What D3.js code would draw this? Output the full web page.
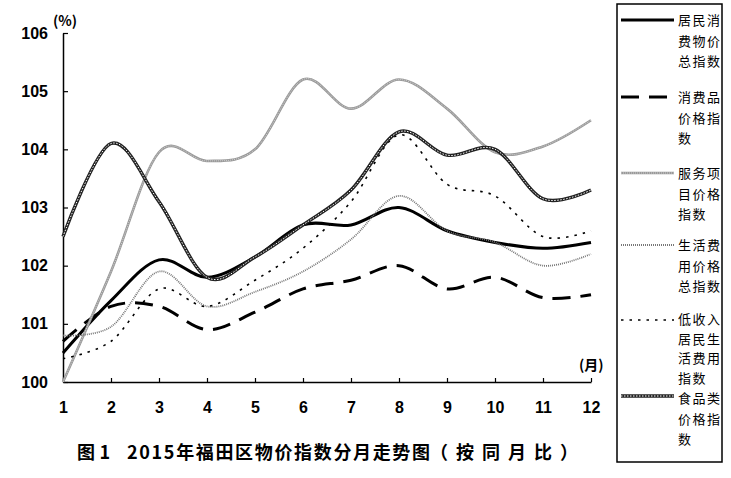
<!DOCTYPE html>
<html><head><meta charset="utf-8">
<script src="https://cdn.jsdelivr.net/npm/d3@7"></script>
<style>body{margin:0;background:#fff}svg{display:block}</style>
</head><body>
<script>
const months = [1,2,3,4,5,6,7,8,9,10,11,12];
const cpi      = [100.5,101.4,102.1,101.8,102.15,102.7,102.7,103.0,102.6,102.4,102.3,102.4];
const goods    = [100.7,101.3,101.3,100.9,101.2,101.6,101.75,102.0,101.6,101.8,101.45,101.5];
const services = [100.0,101.9,103.95,103.8,104.0,105.2,104.7,105.2,104.7,103.95,104.05,104.5];
const living   = [100.8,100.95,101.9,101.3,101.55,101.9,102.45,103.2,102.6,102.4,102.0,102.2];
const lowInc   = [100.4,100.7,101.6,101.3,101.75,102.3,103.1,104.25,103.4,103.2,102.5,102.6];
const food     = [102.5,104.1,103.1,101.8,102.15,102.7,103.3,104.3,103.9,104.0,103.15,103.3];
const yTicks = [100,101,102,103,104,105,106];
const legendNames = [["居民消","费物价","总指数"],["消费品","价格指","数"],["服务项","目价格","指数"],["生活费","用价格","总指数"],["低收入","居民生","活费用","指数"],["食品类","价格指","数"]];
const titleParts = ["图1","2015年福田区物价指数分月走势图","（按同月比）"];

const W=731,H=478;
const svg=d3.select("body").append("svg").attr("width",W).attr("height",H);
const x=d3.scaleLinear().domain([1,12]).range([63,591]);
const y=d3.scaleLinear().domain([100,106]).range([382,33]);

const numFont='"Liberation Sans", Arial, sans-serif';
const cjk='"Noto Sans CJK SC", sans-serif';

// axes
const ya=svg.append("g").attr("transform","translate(63,0)")
  .call(d3.axisLeft(y).tickValues(yTicks).tickSizeInner(-5).tickSizeOuter(0).tickPadding(15).tickFormat(d3.format("d")));
ya.selectAll("text").attr("font-family",numFont).attr("font-weight","bold").attr("font-size",16).attr("fill","#000");
const xa=svg.append("g").attr("transform","translate(0,382)")
  .call(d3.axisBottom(x).tickValues(months).tickSizeInner(-4).tickSizeOuter(0).tickPadding(20).tickFormat(d3.format("d")));
xa.selectAll("text").attr("font-family",numFont).attr("font-weight","bold").attr("font-size",16).attr("fill","#000");
svg.selectAll(".domain").attr("stroke","#000").attr("stroke-width",1.5);
svg.selectAll(".tick line").attr("stroke","#000").attr("stroke-width",1.2);

svg.append("text").attr("x",53).attr("y",26).text("(%)").attr("font-family",cjk).attr("font-weight","bold").attr("font-size",14);
svg.append("text").attr("x",579).attr("y",370).text("(月)").attr("font-family",cjk).attr("font-weight","bold").attr("font-size",14);

const line=d3.line().x((d,i)=>x(months[i])).y(d=>y(d)).curve(d3.curveCatmullRom.alpha(0));

const styles=[
  {data:cpi, layers:[{stroke:"#000",w:3}]},
  {data:goods, layers:[{stroke:"#000",w:3,dash:"18,10"}]},
  {data:services, layers:[{stroke:"#999",w:2.6},{stroke:"#e0e0e0",w:0.8,dash:"1,1"}]},
  {data:living, layers:[{stroke:"#777",w:1.8,dash:"1,1"}]},
  {data:lowInc, layers:[{stroke:"#000",w:1.6,dash:"2.5,6"}]},
  {data:food, layers:[{stroke:"#222",w:3.4},{stroke:"#fff",w:1,dash:"1.5,1.5"}]}
];
styles.forEach(s=>{
  s.layers.forEach(l=>{
    svg.append("path").datum(s.data).attr("d",line).attr("fill","none")
      .attr("stroke",l.stroke).attr("stroke-width",l.w).attr("stroke-dasharray",l.dash||null);
  });
});

// legend
svg.append("rect").attr("x",617).attr("y",4).attr("width",105).attr("height",458)
  .attr("fill","none").attr("stroke","#000").attr("stroke-width",1.5);
const legY=[20,97,173,245,320,396];
const legText=[20,97,173,245,319,398];
const legStep=[20.5,20.5,20.5,20.5,19.5,20.5];
styles.forEach((s,i)=>{
  const g=svg.append("g");
  const lx=[621,674];
  s.layers.forEach(l=>{
    g.append("line").attr("x1",lx[0]).attr("x2",lx[1]).attr("y1",legY[i]).attr("y2",legY[i])
      .attr("stroke",l.stroke).attr("stroke-width",l.w).attr("stroke-dasharray",l.dash||null);
  });
  legendNames[i].forEach((t,j)=>{
    g.append("text").attr("x",678).attr("y",legText[i]+5+j*legStep[i]).text(t)
      .attr("font-family",cjk).attr("font-size",13).attr("letter-spacing",1.5).attr("fill","#000");
  });
});

const tx=[[77,33],[127,303],[430,148]];
titleParts.forEach((t,i)=>{
  svg.append("text").attr("x",tx[i][0]).attr("y",459).text(t)
    .attr("font-family",cjk).attr("font-weight","bold").attr("font-size",18)
    .attr("textLength",tx[i][1]).attr("lengthAdjust","spacing");
});
</script>
</body></html>
